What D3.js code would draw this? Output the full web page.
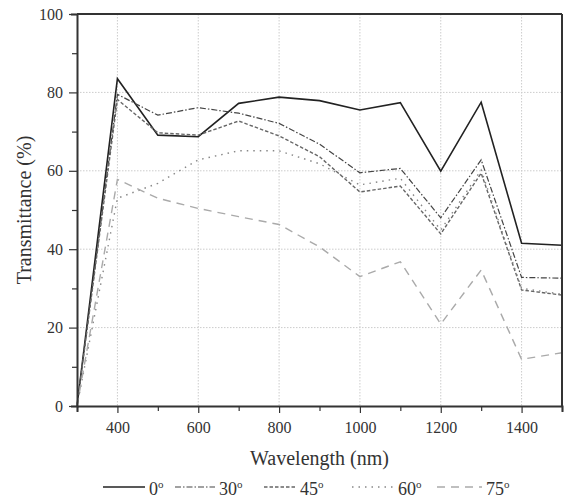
<!DOCTYPE html>
<html>
<head>
<meta charset="utf-8">
<script src="https://cdn.jsdelivr.net/npm/d3@7"></script>
<style>
  body { margin: 0; background: #fff; }
</style>
</head>
<body>
<div id="chart"></div>
<script>
// wavelengths (nm)
const wavelengths = [300, 400, 500, 600, 700, 800, 900, 1000, 1100, 1200, 1300, 1400, 1500];
// transmittance (%) per incidence angle
const t0  = [0, 83.5, 69.1, 68.7, 77.2, 78.8, 77.9, 75.5, 77.4, 59.9, 77.5, 41.5, 41.0];
const t30 = [0, 79.5, 74.2, 76.1, 74.7, 72.1, 66.8, 59.5, 60.6, 48.0, 62.8, 32.8, 32.6];
const t45 = [0, 78.2, 69.7, 69.1, 72.7, 68.9, 63.6, 54.6, 56.1, 43.9, 59.4, 29.6, 28.3];
const t60 = [0, 53.0, 56.8, 62.8, 65.1, 65.1, 61.8, 56.4, 58.1, 44.9, 60.2, 30.0, 28.5];
const t75 = [0, 57.8, 53.0, 50.4, 48.3, 46.3, 40.6, 33.0, 36.8, 20.9, 34.7, 11.9, 13.6];
const angles = ["0", "30", "45", "60", "75"];
const xTicks = [400, 600, 800, 1000, 1200, 1400];
const yTicks = [0, 20, 40, 60, 80, 100];

const serif = "Liberation Serif";

const series = [
  { name: angles[0], values: t0,  color: "#222", width: 1.6, dash: null },
  { name: angles[1], values: t30, color: "#444", width: 1.2, dash: "6,2,1.5,2" },
  { name: angles[2], values: t45, color: "#666", width: 1.4, dash: "3.5,2" },
  { name: angles[3], values: t60, color: "#888", width: 1.4, dash: "1.5,5" },
  { name: angles[4], values: t75, color: "#aaa", width: 1.4, dash: "8,6" }
];

const width = 568, height = 500;
const margin = { top: 14, right: 6, bottom: 94, left: 77 };
const w = width - margin.left - margin.right;
const h = height - margin.top - margin.bottom;

const svg = d3.select("#chart").append("svg")
  .attr("width", width)
  .attr("height", height)
  .attr("font-family", serif);
const g = svg.append("g")
  .attr("transform", `translate(${margin.left},${margin.top})`);

const x = d3.scaleLinear().domain([300, 1500]).range([0, w]);
const y = d3.scaleLinear().domain([0, 100]).range([h, 0]);

// grid
g.append("g").selectAll("line").data(xTicks).join("line")
  .attr("x1", d => x(d)).attr("x2", d => x(d))
  .attr("y1", 0).attr("y2", h)
  .attr("stroke", "#ccc").attr("stroke-width", 1).attr("stroke-dasharray", "1.5,1.5");
g.append("g").selectAll("line").data(yTicks.filter(d => d > 0 && d < 100)).join("line")
  .attr("x1", 0).attr("x2", w)
  .attr("y1", d => y(d)).attr("y2", d => y(d))
  .attr("stroke", "#ccc").attr("stroke-width", 1).attr("stroke-dasharray", "1.5,1.5");

// lines
const line = d3.line()
  .x((d, i) => x(wavelengths[i]))
  .y(d => y(d));
series.forEach(s => {
  g.append("path")
    .datum(s.values)
    .attr("fill", "none")
    .attr("stroke", s.color)
    .attr("stroke-width", s.width)
    .attr("stroke-dasharray", s.dash)
    .attr("d", line);
});

// axes
const xAxis = g.append("g").attr("transform", `translate(0,${h})`)
  .call(d3.axisBottom(x).tickValues(d3.range(300, 1501, 100)).tickSize(6)
    .tickFormat(d => xTicks.includes(d) ? d : ""));
const yAxis = g.append("g")
  .call(d3.axisLeft(y).tickValues(d3.range(0, 101, 10)).tickSize(6)
    .tickFormat(d => yTicks.includes(d) ? d : ""));

[xAxis, yAxis].forEach(a => {
  a.attr("font-family", serif).attr("font-size", 16);
  a.select(".domain").attr("stroke", "#333").attr("stroke-width", 2);
  a.selectAll(".tick line").attr("stroke", "#333").attr("stroke-width", 1.2);
  a.selectAll("text").attr("fill", "#333");
});
xAxis.selectAll(".tick line").attr("y2", d => xTicks.includes(d) ? 7 : 5);
xAxis.selectAll("text").attr("dy", "1.1em");
yAxis.selectAll(".tick line").attr("x2", d => yTicks.includes(d) ? -8 : -5);
yAxis.selectAll("text").attr("x", -14);

// top and right frame
g.append("line").attr("x1", 0).attr("x2", w).attr("y1", 0).attr("y2", 0)
  .attr("stroke", "#333").attr("stroke-width", 2);
g.append("line").attr("x1", w).attr("x2", w).attr("y1", 0).attr("y2", h)
  .attr("stroke", "#333").attr("stroke-width", 2);

// axis titles
svg.append("text")
  .attr("x", margin.left + w / 2).attr("y", 465)
  .attr("text-anchor", "middle").attr("font-size", 20).attr("fill", "#333")
  .text("Wavelength (nm)");
svg.append("text")
  .attr("transform", `translate(31,${margin.top + h / 2}) rotate(-90)`)
  .attr("text-anchor", "middle").attr("font-size", 20).attr("fill", "#333")
  .text("Transmittance (%)");

// legend
const legendX = [103, 175, 264, 352, 437];
const legendLen = [42, 40, 32, 42, 45];
const legend = svg.append("g");
series.forEach((s, i) => {
  legend.append("line")
    .attr("x1", legendX[i]).attr("x2", legendX[i] + legendLen[i])
    .attr("y1", 487).attr("y2", 487)
    .attr("stroke", s.color).attr("stroke-width", s.width)
    .attr("stroke-dasharray", s.dash);
  const t = legend.append("text")
    .attr("x", legendX[i] + legendLen[i] + 4).attr("y", 495)
    .attr("font-size", 18).attr("fill", "#333");
  t.append("tspan").text(s.name);
  t.append("tspan").attr("dy", -7).attr("font-size", 11).text("o");
});
</script>
</body>
</html>
